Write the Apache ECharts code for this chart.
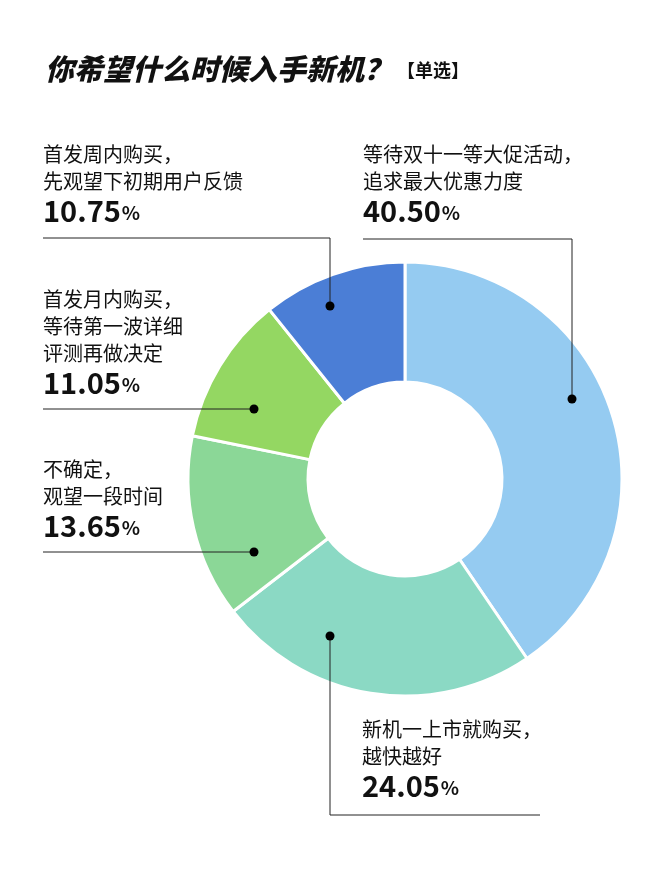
<!DOCTYPE html>
<html>
<head>
<meta charset="utf-8">
<title>你希望什么时候入手新机？</title>
<script src="https://cdn.jsdelivr.net/npm/echarts@6/dist/echarts.min.js"></script>
<style>
  html, body { margin: 0; padding: 0; background: #fff; }
  #main { width: 650px; height: 882px; }
</style>
</head>
<body>
<div id="main"></div>
<script>
// 数据
var names = [
  '等待双十一等大促活动，\n追求最大优惠力度',
  '新机一上市就购买，\n越快越好',
  '不确定，\n观望一段时间',
  '首发月内购买，\n等待第一波详细\n评测再做决定',
  '首发周内购买，\n先观望下初期用户反馈'
];
var values = [40.50, 24.05, 13.65, 11.05, 10.75];
var colors = ['#95CBF1', '#8BD9C4', '#8BD797', '#94D762', '#4B7ED6'];

// 标签位置和引导线（左上角 / 折线点）
var labelPos = [[363, 141], [362, 716], [43, 456], [43, 286], [43, 141]];
var linePts = [
  [[572, 399], [572, 239], [363, 239]],
  [[330, 636], [330, 815], [540, 815]],
  [[254, 552], [43, 552]],
  [[254, 409], [43, 409]],
  [[330, 306], [330, 238], [43, 238]]
];

var myChart = echarts.init(document.getElementById('main'));

// 引导线和圆点画在扇区上面
var leaders = [];
linePts.forEach(function (p) {
  leaders.push({
    type: 'polyline',
    shape: { points: p },
    style: { stroke: '#222', lineWidth: 1, fill: null },
    z: 100
  });
  leaders.push({
    type: 'circle',
    shape: { cx: p[0][0], cy: p[0][1], r: 4.5 },
    style: { fill: '#000' },
    z: 101
  });
});

var option = {
  animation: false,
  backgroundColor: '#fff',
  title: {
    left: 40,
    top: 49,
    text: '{a|你希望什么时候入手新机？}{b| 【单选】}',
    textStyle: {
      rich: {
        a: { fontSize: 29, fontWeight: 900, fontStyle: 'italic', color: '#111', fontFamily: 'Noto Sans CJK SC' },
        b: { fontSize: 18, fontWeight: 'bold', color: '#111', fontFamily: 'Noto Sans CJK SC', padding: [4, 0, 0, 0] }
      }
    }
  },
  graphic: leaders,
  series: [{
    type: 'pie',
    center: [405, 479],
    radius: [97, 217],
    startAngle: 90,
    clockwise: true,
    avoidLabelOverlap: false,
    emphasis: { disabled: true },
    itemStyle: { borderColor: '#fff', borderWidth: 3 },
    label: {
      show: true,
      position: 'outer',
      alignTo: 'none',
      color: '#111',
      fontFamily: 'Noto Sans CJK SC',
      formatter: function (p) {
        return '{t|' + p.name.split('\n').join('}\n{t|') + '}\n{n|' + p.value.toFixed(2) + '}{p|%}';
      },
      rich: {
        t: { fontSize: 20, lineHeight: 27, color: '#111', fontFamily: 'Noto Sans CJK SC' },
        n: { fontSize: 29, lineHeight: 32, fontWeight: 'bold', color: '#111', fontFamily: 'Noto Sans CJK SC' },
        p: { fontSize: 19, lineHeight: 32, fontWeight: 'bold', color: '#111', fontFamily: 'Noto Sans CJK SC', padding: [4, 0, 0, 1] }
      }
    },
    labelLine: { show: false },
    labelLayout: function (params) {
      var i = params.dataIndex;
      return {
        x: labelPos[i][0],
        y: labelPos[i][1],
        align: 'left',
        verticalAlign: 'top'
      };
    },
    data: values.map(function (v, i) {
      return { value: v, name: names[i], itemStyle: { color: colors[i] } };
    })
  }]
};

myChart.setOption(option);
</script>
</body>
</html>
